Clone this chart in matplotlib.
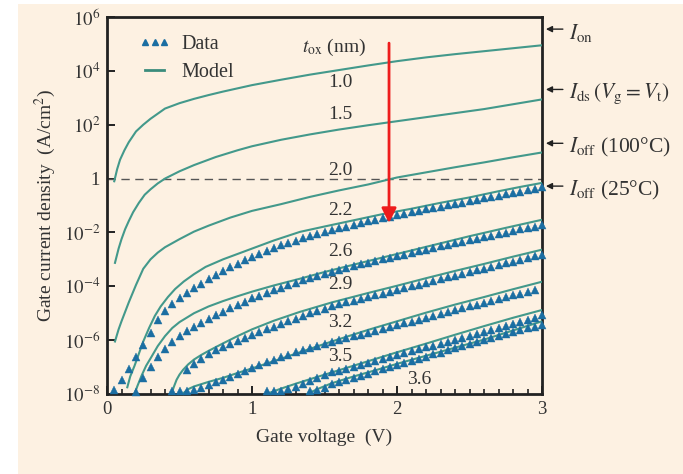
import numpy as np
import matplotlib
matplotlib.use("Agg")
import matplotlib.pyplot as plt
from matplotlib.lines import Line2D
from matplotlib.patches import Rectangle

# ---------------- data (log10 of gate current density, A/cm^2) ----------------
thickness_labels = ["1.0", "1.5", "2.0", "2.2", "2.6", "2.9", "3.2", "3.5", "3.6"]

# model curves
m10_v = [0.05, 0.07, 0.09, 0.12, 0.15, 0.2, 0.25, 0.3, 0.4, 0.5, 0.6, 0.7, 0.8, 1.0, 1.2, 1.4, 1.6, 1.8, 2.0, 2.2, 2.4, 2.6, 2.8, 3.0]
m10_j = [-0.1, 0.35, 0.7, 1.05, 1.35, 1.75, 2.0, 2.22, 2.6, 2.8, 2.96, 3.1, 3.23, 3.47, 3.67, 3.86, 4.03, 4.2, 4.36, 4.5, 4.62, 4.73, 4.84, 4.95]

m15_v = [0.055, 0.08, 0.1, 0.125, 0.15, 0.18, 0.22, 0.26, 0.3, 0.35, 0.4, 0.5, 0.6, 0.75, 0.9, 1.0, 1.2, 1.4, 1.6, 1.8, 2.0, 2.2, 2.4, 2.6, 2.8, 3.0]
m15_j = [-3.13, -2.6, -2.25, -1.88, -1.58, -1.25, -0.9, -0.6, -0.4, -0.18, 0.0, 0.27, 0.5, 0.8, 1.05, 1.2, 1.44, 1.64, 1.82, 1.98, 2.13, 2.28, 2.43, 2.58, 2.76, 2.94]

m20_v = [0.055, 0.08, 0.1, 0.125, 0.15, 0.2, 0.25, 0.3, 0.35, 0.4, 0.5, 0.6, 0.7, 0.85, 1.0, 1.2, 1.4, 1.6, 1.8, 2.0, 2.2, 2.4, 2.6, 2.8, 3.0]
m20_j = [-6.05, -5.6, -5.3, -4.95, -4.6, -3.95, -3.35, -3.0, -2.75, -2.55, -2.25, -1.97, -1.75, -1.45, -1.2, -0.95, -0.68, -0.44, -0.22, 0.04, 0.23, 0.42, 0.6, 0.79, 0.97]

m22_v = [0.14, 0.16, 0.19, 0.22, 0.25, 0.29, 0.33, 0.37, 0.42, 0.47, 0.53, 0.6, 0.68, 0.8, 0.9, 1.0, 1.15, 1.33, 1.5, 1.7, 1.9, 2.1, 2.3, 2.5, 2.7, 2.85, 3.0]
m22_j = [-7.75, -7.35, -6.95, -6.5, -6.05, -5.55, -5.1, -4.75, -4.4, -4.1, -3.82, -3.55, -3.28, -3.0, -2.8, -2.6, -2.3, -1.98, -1.78, -1.55, -1.32, -1.12, -0.9, -0.7, -0.47, -0.31, -0.16]

m26_v = [0.19, 0.21, 0.24, 0.27, 0.3, 0.35, 0.4, 0.45, 0.5, 0.6, 0.7, 0.8, 0.9, 1.0, 1.15, 1.33, 1.5, 1.75, 2.0, 2.25, 2.5, 2.75, 3.0]
m26_j = [-8.0, -7.7, -7.3, -6.95, -6.68, -6.22, -5.85, -5.55, -5.33, -5.0, -4.75, -4.55, -4.37, -4.2, -3.97, -3.72, -3.47, -3.13, -2.8, -2.47, -2.14, -1.83, -1.53]

m29_v = [0.445, 0.46, 0.48, 0.5, 0.525, 0.56, 0.6, 0.65, 0.7, 0.8, 0.9, 1.0, 1.15, 1.33, 1.55, 1.8, 2.0, 2.2, 2.4, 2.6, 2.8, 3.0]
m29_j = [-8.0, -7.75, -7.47, -7.28, -7.1, -6.9, -6.72, -6.55, -6.4, -6.12, -5.85, -5.6, -5.28, -4.95, -4.6, -4.25, -3.98, -3.7, -3.43, -3.17, -2.9, -2.64]

m32_v = [0.52, 0.56, 0.6, 0.7, 0.8, 0.9, 1.0, 1.15, 1.33, 1.55, 1.8, 2.0, 2.2, 2.4, 2.6, 2.8, 3.0]
m32_j = [-8.0, -7.82, -7.72, -7.55, -7.4, -7.22, -7.05, -6.78, -6.45, -6.05, -5.62, -5.3, -4.98, -4.68, -4.4, -4.11, -3.83]

m35_v = [1.1, 1.15, 1.2, 1.3, 1.4, 1.55, 1.7, 1.85, 2.0, 2.2, 2.4, 2.6, 2.8, 3.0]
m35_j = [-8.0, -7.9, -7.8, -7.62, -7.45, -7.2, -6.95, -6.7, -6.45, -6.13, -5.8, -5.48, -5.17, -4.88]

m36_v = [1.38, 1.45, 1.55, 1.7, 1.85, 2.0, 2.2, 2.4, 2.6, 2.8, 3.0]
m36_j = [-8.0, -7.82, -7.6, -7.35, -7.12, -6.88, -6.58, -6.28, -5.98, -5.64, -5.3]

# measured data (triangles), gate voltage steps of 0.05 V starting at d??_v0
d22_v0 = 0.05
d22_j = [-7.84, -7.47, -7.08, -6.62, -6.17, -5.72, -5.27, -4.92, -4.66, -4.44,
         -4.25, -4.07, -3.9, -3.74, -3.58, -3.44, -3.3, -3.16, -3.03, -2.9,
         -2.79, -2.68, -2.58, -2.48, -2.39, -2.3, -2.22, -2.14, -2.06, -1.99,
         -1.92, -1.85, -1.78, -1.72, -1.65, -1.59, -1.53, -1.47, -1.41, -1.36,
         -1.3, -1.25, -1.19, -1.14, -1.09, -1.04, -0.99, -0.94, -0.89, -0.84,
         -0.79, -0.74, -0.69, -0.64, -0.59, -0.54, -0.49, -0.44, -0.39, -0.32]

d26_v0 = 0.20
d26_j = [-7.94, -7.42, -6.98, -6.63, -6.33, -6.08, -5.86, -5.67, -5.5, -5.36,
         -5.22, -5.08, -4.95, -4.82, -4.69, -4.57, -4.45, -4.35, -4.25, -4.15,
         -4.05, -3.96, -3.86, -3.77, -3.69, -3.61, -3.53, -3.46, -3.39, -3.32,
         -3.25, -3.18, -3.12, -3.06, -3.0, -2.94, -2.88, -2.82, -2.76, -2.7,
         -2.64, -2.58, -2.52, -2.46, -2.41, -2.35, -2.29, -2.23, -2.18, -2.12,
         -2.06, -2.01, -1.95, -1.89, -1.84, -1.78, -1.72]

d29_v0 = 0.45
d29_j = [-7.9, -7.88, -7.12, -6.88, -6.7, -6.53, -6.38, -6.26, -6.15, -6.04,
         -5.93, -5.82, -5.71, -5.6, -5.5, -5.4, -5.3, -5.2, -5.1, -5.01,
         -4.92, -4.83, -4.74, -4.67, -4.6, -4.54, -4.47, -4.41, -4.34, -4.27,
         -4.2, -4.14, -4.07, -4.0, -3.94, -3.87, -3.81, -3.74, -3.67, -3.61,
         -3.54, -3.48, -3.41, -3.35, -3.28, -3.22, -3.15, -3.09, -3.02, -2.96,
         -2.89, -2.83]

d32_v0 = 0.55
d32_j = [-7.9, -7.86, -7.77, -7.66, -7.57, -7.48, -7.37, -7.25, -7.14, -7.03,
         -6.93, -6.83, -6.73, -6.63, -6.54, -6.45, -6.37, -6.29, -6.21, -6.13,
         -6.06, -6.0, -5.93, -5.86, -5.8, -5.73, -5.66, -5.59, -5.52, -5.45,
         -5.38, -5.31, -5.24, -5.17, -5.1, -5.03, -4.96, -4.89, -4.82, -4.75,
         -4.68, -4.61, -4.54, -4.47, -4.4, -4.33, -4.27, -4.2, -4.13]

d35_v0 = 1.10
d35_j = [-7.9, -7.9, -7.88, -7.82, -7.74, -7.62, -7.5, -7.4, -7.3, -7.2,
         -7.14, -7.06, -6.98, -6.91, -6.84, -6.76, -6.69, -6.62, -6.55, -6.48,
         -6.41, -6.34, -6.27, -6.2, -6.13, -6.06, -5.99, -5.92, -5.85, -5.78,
         -5.71, -5.64, -5.56, -5.49, -5.41, -5.33, -5.24, -5.16, -5.07]

d36_v0 = 1.40
d36_j = [-7.9, -7.86, -7.76, -7.64, -7.56, -7.48, -7.4, -7.32, -7.24, -7.16,
         -7.08, -7.0, -6.92, -6.84, -6.76, -6.69, -6.61, -6.53, -6.46, -6.38,
         -6.3, -6.23, -6.15, -6.08, -6.0, -5.93, -5.85, -5.78, -5.7, -5.63,
         -5.56, -5.5, -5.44]

# right-hand reference levels
ref_labels = [r"$I_{\mathrm{on}}$", r"$I_{\mathrm{ds}}\,(V_{\mathrm{g}} = V_{\mathrm{t}})$",
              r"$I_{\mathrm{off}}$ (100°C)", r"$I_{\mathrm{off}}$ (25°C)"]
ref_levels = [5.55, 3.31, 1.31, -0.28]

# thickness label positions (V, log J)
lab_pos = [(1.524, 3.56), (1.524, 2.37), (1.524, 0.29), (1.524, -1.19), (1.524, -2.71),
           (1.524, -3.93), (1.524, -5.35), (1.524, -6.61), (2.07, -7.47)]

ytick_exp = [6, 4, 2, 0, -2, -4, -6, -8]

# ---------------- styling ----------------
plt.rcParams["font.family"] = ["Liberation Serif", "DejaVu Serif"]
plt.rcParams["mathtext.fontset"] = "stix"

BG = "#fdf1e2"
TEAL = "#43998b"
BLUE = "#1b6ea2"

fig = plt.figure(figsize=(6.83, 4.74), dpi=100, facecolor="white")
fig.patches.append(Rectangle((18 / 683, 0), 1 - 18 / 683, 1 - 4 / 474,
                             transform=fig.transFigure, facecolor=BG, edgecolor="none", zorder=-10))
ax = fig.add_axes([107 / 683, 1 - 394 / 474, 435 / 683, 377 / 474])
ax.set_facecolor(BG)

models = [(m10_v, m10_j), (m15_v, m15_j), (m20_v, m20_j), (m22_v, m22_j), (m26_v, m26_j),
          (m29_v, m29_j), (m32_v, m32_j), (m35_v, m35_j), (m36_v, m36_j)]
for v, j in models:
    ax.plot(v, 10.0 ** np.array(j), color=TEAL, lw=1.5, zorder=3)

datas = [(d22_v0, d22_j), (d26_v0, d26_j), (d29_v0, d29_j), (d32_v0, d32_j),
         (d35_v0, d35_j), (d36_v0, d36_j)]
for v0, j in datas:
    v = v0 + 0.05 * np.arange(len(j))
    ax.plot(v, 10.0 ** np.array(j), ls="none", marker="^", ms=5.3, color=BLUE,
            mec=BLUE, mew=0.3, zorder=4, clip_on=False)

ax.axhline(1.0, color="#555555", lw=1.0, ls=(0, (6, 4)), zorder=2)

ax.set_yscale("log")
ax.set_xlim(0, 3)
ax.set_ylim(1e-8, 1e6)

ax.set_yticks([10.0 ** e for e in ytick_exp])
ax.set_yticklabels(["1" if e == 0 else r"$10^{%d}$" % e for e in ytick_exp])
ax.yaxis.set_minor_locator(matplotlib.ticker.NullLocator())
ax.set_xticks([0, 1, 2, 3])
ax.set_xticklabels(["0", "1", "2", "3"])
ax.set_xticks(np.arange(0, 3.01, 0.1), minor=True)
ax.tick_params(axis="both", which="major", direction="in", length=6, width=1.4,
               labelsize=13.5, colors="#222222", labelcolor="#333333", pad=5)
ax.tick_params(axis="x", which="minor", direction="in", length=3.5, width=1.2, colors="#222222")
for s in ax.spines.values():
    s.set_linewidth(2.0)
    s.set_color("#222222")

ax.set_xlabel("Gate voltage  (V)", fontsize=14, color="#333333", labelpad=8)
ax.set_ylabel("Gate current density  (A/cm$^2$)", fontsize=14, color="#333333", labelpad=4)

# legend
h_data = Line2D([], [], ls="none", marker="^", ms=5.0, color=BLUE)
h_model = Line2D([], [], color="#3a8c7c", lw=2.0)
leg = ax.legend([h_data, h_model], ["Data", "Model"], loc="upper left",
                bbox_to_anchor=(0.055, 0.975), frameon=False, numpoints=3,
                handlelength=1.55, handletextpad=0.55, fontsize=14.5, labelspacing=0.45,
                borderaxespad=0)
for t in leg.get_texts():
    t.set_color("#333333")

# thickness labels
ax.text(1.345, 10 ** 4.86, r"$t_{\mathrm{ox}}$ (nm)", fontsize=14, color="#333333",
        ha="left", va="center")
for (x, y), s in zip(lab_pos, thickness_labels):
    ax.text(x, 10 ** y, s, fontsize=14, color="#333333", ha="left", va="center")

# red arrow
ax.annotate("", xy=(1.945, 10 ** -1.65), xytext=(1.945, 10 ** 5.03),
            arrowprops=dict(arrowstyle="-|>", color="#ee1c1c", lw=2.0,
                            mutation_scale=22, shrinkA=0, shrinkB=0), zorder=6)

# right-hand annotations
trans = matplotlib.transforms.blended_transform_factory(ax.transAxes, ax.transData)
for lab, lvl in zip(ref_labels, ref_levels):
    ax.annotate("", xy=(1.009, 10 ** lvl), xycoords=trans,
                xytext=(1.048, 10 ** lvl), textcoords=trans,
                arrowprops=dict(arrowstyle="-|>", color="#222222", lw=1.0,
                                mutation_scale=9, shrinkA=0, shrinkB=0),
                annotation_clip=False)
    ax.text(1.063, 10 ** (lvl - 0.15), lab, transform=trans, fontsize=15.5,
            color="#333333", ha="left", va="center", clip_on=False)

fig.savefig("out.png", dpi=100, facecolor="white")
